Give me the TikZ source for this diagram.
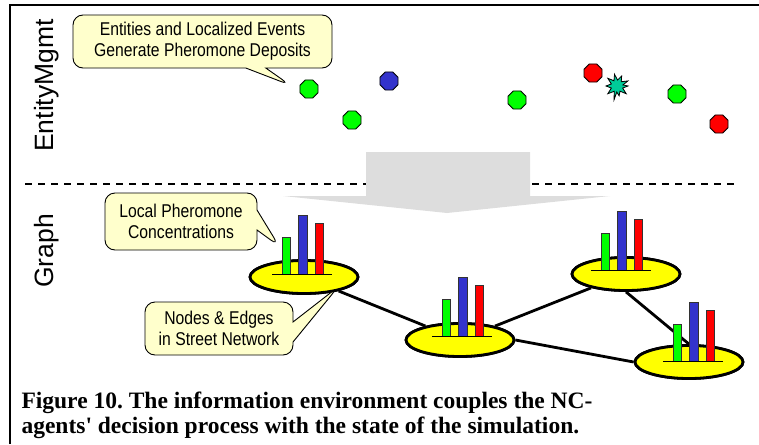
\documentclass[tikz,border=0pt]{standalone}
\usepackage{fontspec}
\setmainfont{Liberation Serif}
\newfontfamily\labelfont{Liberation Sans}
\newfontfamily\notefont[FakeStretch=0.85]{Liberation Sans}
\usetikzlibrary{shapes.geometric,shapes.callouts}

\definecolor{notefill}{RGB}{255,255,204}
\definecolor{arrowgray}{RGB}{221,221,221}
\definecolor{bargreen}{RGB}{0,255,0}
\definecolor{barblue}{RGB}{51,51,204}
\definecolor{barred}{RGB}{255,0,0}
\definecolor{burstfill}{RGB}{0,204,153}
\definecolor{nodeyellow}{RGB}{255,255,0}

\begin{document}
\frenchspacing
\begin{tikzpicture}[x=1pt,y=-1pt,
  note/.style={rectangle callout, draw=black, line width=0.9pt, fill=notefill,
    rounded corners=10pt, inner sep=0pt, align=center,
    font=\notefont\fontsize{18.5}{21}\selectfont, callout pointer width=20pt},
  sidelabel/.style={rotate=90, font=\labelfont\fontsize{26.5}{30}\selectfont},
  street/.style={ellipse, draw=black, line width=2.8pt, fill=nodeyellow,
    minimum width=108pt, minimum height=33pt, inner sep=0pt},
  road/.style={line width=2.8pt, black},
  entity/.style={regular polygon, regular polygon sides=8, draw=black,
    line width=0.9pt, minimum size=19.5pt, inner sep=0pt},
  bar/.style={draw=black!80, line width=0.7pt},
  caption/.style={anchor=base west, font=\bfseries\fontsize{23.5}{26}\selectfont},
  bars/.pic={
    \draw[bar, fill=bargreen] (-20,0) rectangle (-12,-37);
    \draw[bar, fill=barblue]  (-4,0)  rectangle (5,-59);
    \draw[bar, fill=barred]   (13,0)  rectangle (21,-51);
    \draw[line width=0.8pt] (-30,0) -- (30,0);
  }]
\useasboundingbox (0,0) rectangle (759,444);

% frame
\draw[line width=2.6pt] (10,444) -- (10,5) -- (759,5);

% layer separator
\draw[line width=2pt, dash pattern=on 7pt off 6pt] (25,184) -- (740,184);

% broad downward arrow between the layers
\fill[arrowgray] (366,152) -- (530,152) -- (530,196) -- (610,196)
  -- (447,213) -- (283,196) -- (366,196) -- cycle;

% layer labels
\node[sidelabel] (lblEntity) at (47,85.5) {EntityMgmt};
\node[sidelabel] (lblGraph) at (47,251) {Graph};

% entities
\node[entity, fill=bargreen] (e1) at (309,89) {};
\node[entity, fill=bargreen] (e2) at (352,120) {};
\node[entity, fill=barblue]  (e3) at (389,81) {};
\node[entity, fill=bargreen] (e4) at (517,100) {};
\node[entity, fill=barred]   (e5) at (593,73) {};
\node[entity, fill=bargreen] (e7) at (677,94) {};
\node[entity, fill=barred]   (e8) at (719,124) {};
% localized event
\coordinate (ev) at (617,86);
\draw[fill=burstfill, line width=0.8pt, shift={(ev)}]
  (0:11) -- (20:6) -- (40:12) -- (60:6) -- (78:10) -- (92:6) -- (102:14)
  -- (118:6) -- (140:12) -- (160:6) -- (180:11) -- (200:6) -- (220:12)
  -- (240:6) -- (258:12) -- (275:6) -- (295:11) -- (315:6) -- (335:12)
  -- (350:6) -- cycle;

% street network
\coordinate (c1) at (304,277);
\coordinate (c2) at (460,340);
\coordinate (c3) at (626,274);
\coordinate (c4) at (689,362);
\node[street] (n1) at (c1) {};
\node[street] (n2) at (c2) {};
\node[street] (n3) at (c3) {};
\node[street] (n4) at (c4) {};
\draw[road] (n1) -- (n2);
\draw[road] (n2) -- (n3);
\draw[road] (n2.east) -- (n4.west);
\draw[road] (n3.south) -- (n4.north);
% redraw the ellipses above the roads
\node[street] at (c1) {};
\node[street] at (c2) {};
\node[street] at (c3) {};
\node[street] at (c4) {};

% pheromone concentrations
\pic at (302,274) {bars};
\pic at (462,336) {bars};
\pic at (621,270) {bars};
\pic at (693,361) {bars};

% callouts
\node[note, minimum width=259pt, minimum height=53pt,
  callout absolute pointer={(290,85)}] (noteA) at (202.5,41.5)
  {Entities and Localized Events\\Generate Pheromone Deposits};
\node[note, minimum width=152pt, minimum height=57pt,
  callout absolute pointer={(279,246)}] (noteB) at (181,221.5)
  {Local Pheromone\\Concentrations};
\node[note, minimum width=148pt, minimum height=53pt,
  callout absolute pointer={(338,287)}] (noteC) at (219,328.5)
  {Nodes \& Edges\\in Street Network};

% caption
\node[caption] (cap1) at (18,408)
  {Figure 10. The information environment couples the NC-};
\node[caption] (cap2) at (18,433)
  {agents\textquotesingle\ decision process with the state of the simulation.};
\end{tikzpicture}
\end{document}
